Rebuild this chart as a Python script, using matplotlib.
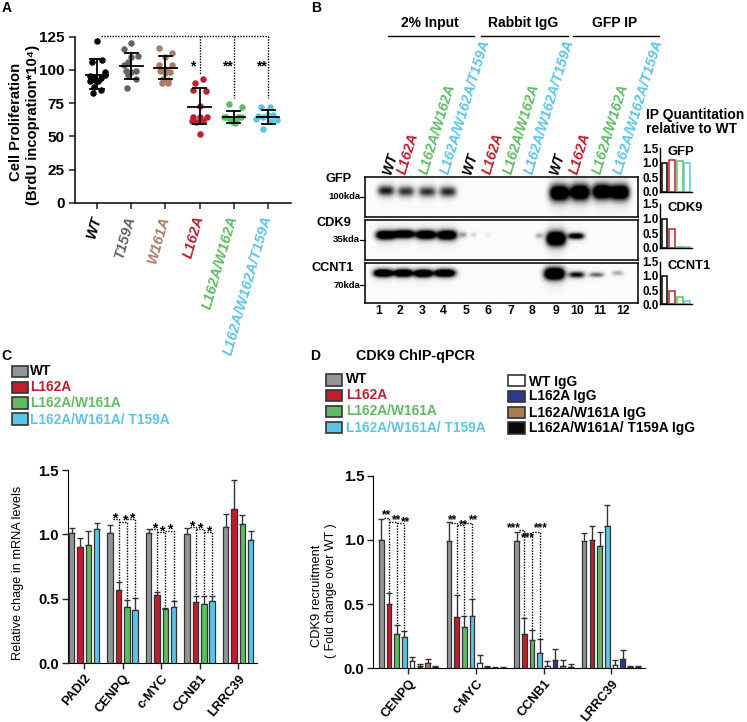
import numpy as np
import matplotlib
matplotlib.use("Agg")
import matplotlib.pyplot as plt
from matplotlib.patches import Rectangle

plt.rcParams['font.family'] = ['Liberation Sans', 'DejaVu Sans']
W, H = 747, 722
DARK = '#222222'
GRAY, RED, GREEN, BLUE = '#939598', '#BE1E2D', '#60BB63', '#5BC5E8'
SLATE, BROWN, NAVY = '#636466', '#A97C64', '#2B3990'
TAN, NEARBLACK = '#A97C50', '#0A0A0A'

# ---------- Panel A ----------
a_names = ['WT', 'T159A', 'W161A', 'L162A', 'L162A/W162A', 'L162A/W162A/T159A']
a_colors = ['black', SLATE, BROWN, RED, GREEN, BLUE]
a_wt = [121.7, 106, 107.5, 95.5, 98.7, 94, 92, 94, 92, 96, 92, 87, 85, 82.5]
a_wt_off = [0, -.16, .14, -.2, .24, -.08, .04, .12, -.03, .22, -.2, -.08, .12, -.12]
a_t = [120.5, 115.5, 110.5, 109.5, 104, 106, 99, 98.5, 99, 96, 93.5, 86.5]
a_t_off = [0, -.2, .2, -.02, -.2, -.1, -.15, 0, .15, -.1, .13, -.12]
a_w = [116.7, 112.5, 110, 103.7, 103.7, 101, 99, 97.5, 98.7, 93, 92.5, 90, 90.5]
a_w_off = [-.2, .2, 0, -.18, .2, 0, -.17, -.02, .13, -.07, .08, -.09, .08]
a_l = [90.4, 93, 85, 84.4, 73, 64.4, 64.4, 64.4, 61, 62, 62, 51.6]
a_l_off = [-.14, .11, -.2, .19, 0, -.2, 0, .21, -.1, .09, -.22, 0]
a_lw = [74.4, 72, 64.4, 63.5, 61, 64.4, 64.4, 60, 64.4, 62]
a_lw_off = [-.15, .24, -.22, -.12, -.03, .12, .22, .02, -.3, .06]
a_lwt = [72.4, 72.4, 65.4, 65, 66, 66, 62.4, 55.6, 63.5, 61.5]
a_lwt_off = [-.2, .07, -.29, -.15, 0, .15, .25, -.15, -.34, .1]
a_values = [a_wt, a_t, a_w, a_l, a_lw, a_lwt]
a_offsets = [a_wt_off, a_t_off, a_w_off, a_l_off, a_lw_off, a_lwt_off]
a_mean = [96.2, 103.2, 101.7, 72.4, 64.9, 64.9]
a_sd_hi = [108, 113, 110.5, 86.2, 69, 69.6]
a_sd_lo = [85.4, 93.4, 93.4, 59.1, 60.4, 59.6]
a_yticks = [0, 25, 50, 75, 100, 125]
a_sig_drop = [96, 79, 79]
a_sig_cat = [3, 4, 5]
a_sig_labels = ['*', '**', '**']

# ---------- Panel B ----------
b_lane_nums = ['1', '2', '3', '4', '5', '6', '7', '8', '9', '10', '11', '12']
b_lane_names = ['WT', 'L162A', 'L162A/W162A', 'L162A/W162A/T159A'] * 3
b_lane_colors = ['black', RED, GREEN, BLUE] * 3
b_groups = ['2% Input', 'Rabbit IgG', 'GFP IP']
# band: lane centre, depth, half width, half height, darkness (in zoomed blot units)
b_gfp = [(228, 41, 25, 15, .85), (288, 43, 25, 15, .75), (352, 44, 26, 15, .75), (414, 44, 25, 15, .8),
         (750, 48, 29, 23, 1.6), (812, 46, 29, 23, 1.6), (878, 44, 28, 22, 1.6), (932, 46, 28, 22, 1.6)]
b_cdk9 = [(227, 45, 29, 13, 1.6), (283, 42, 30, 12, 1.6), (348, 44, 30, 13, 1.6), (412, 45, 29, 14, 1.6),
          (460, 44, 11, 8, .35), (492, 44, 8, 6, .16), (535, 45, 10, 7, .05), (690, 47, 12, 8, .3),
          (740, 56, 28, 20, 1.9), (800, 48, 24, 9, 1.2)]
b_ccnt1 = [(220, 30, 29, 11, 1.7), (280, 30, 27, 11, 1.7), (340, 31, 28, 11, 1.7), (405, 30, 31, 11, 1.7),
           (735, 32, 30, 17, 1.9), (802, 35, 24, 9, .95), (862, 35, 22, 7, .55), (925, 30, 17, 7, .3)]
b_quant_titles = ['GFP', 'CDK9', 'CCNT1']
b_quant = [[1, 1.08, 1.07, 1.0], [1, .63, .015, .015], [1, .48, .24, .1]]
b_qticks = [0, .5, 1, 1.5]

# ---------- Panel C ----------
c_genes = ['PADI2', 'CENPQ', 'c-MYC', 'CCNB1', 'LRRC39']
c_names = ['WT', 'L162A', 'L162A/W161A', 'L162A/W161A/ T159A']
c_wt = [1.01, 1.01, 1.01, 1.00, 1.06]
c_l = [.90, .57, .53, .475, 1.20]
c_lw = [.92, .44, .42, .46, 1.08]
c_lwt = [1.04, .41, .44, .48, .96]
c_wt_e = [.04, .06, .03, .05, .10]
c_l_e = [.07, .06, .02, .045, .22]
c_lw_e = [.11, .05, .01, .06, .07]
c_lwt_e = [.05, .10, .04, .04, .07]
c_sig_tops = {1: [1.117, 1.10, 1.117], 2: [1.04, 1.02, 1.03], 3: [1.06, 1.04, 1.02]}
c_star_off = {1: [.5, 1.75, 2.55], 2: [.7, 1.6, 2.5], 3: [.55, 1.55, 2.6]}

# ---------- Panel D ----------
d_genes = ['CENPQ', 'c-MYC', 'CCNB1', 'LRRC39']
d_names = ['WT', 'L162A', 'L162A/W161A', 'L162A/W161A/ T159A']
d_igg_names = ['WT IgG', 'L162A IgG', 'L162A/W161A IgG', 'L162A/W161A/ T159A IgG']
d_cenpq = [1.0, .50, .27, .24, .055, .015, .04, .01]
d_cenpq_e = [.16, .09, .07, .05, .035, .015, .03, .005]
d_myc = [.99, .40, .32, .405, .04, .01, .005, .005]
d_myc_e = [.15, .17, .09, .135, .06, .005, .005, .005]
d_ccnb1 = [.99, .27, .22, .12, .02, .065, .02, .01]
d_ccnb1_e = [.07, .125, .075, .11, .04, .085, .045, .02]
d_lrrc = [.99, 1.0, .95, 1.11, .025, .075, .01, .01]
d_lrrc_e = [.06, .11, .11, .16, .04, .07, .005, .005]
d_sig_tops = {0: [1.17, 1.14, 1.13], 1: [1.13, 1.117, 1.135], 2: [1.08, 1.05, 1.06]}
d_star_off = {0: [.67, 1.95, 3.2], 1: [.45, 1.85, 3.2], 2: [-.3, 1.5, 3.2]}
d_star_y = {0: [1.21, 1.17, 1.155], 1: [1.165, 1.13, 1.165], 2: [1.11, 1.03, 1.11]}


def ax_px(l, t, r, b):
    a = fig.add_axes([l / W, 1 - b / H, (r - l) / W, (b - t) / H])
    a.patch.set_alpha(0)
    return a


def dotted(ax, xs, ys):
    ax.plot(xs, ys, color='black', lw=1, ls=(0, (1, 1)), clip_on=False, zorder=6)


fig = plt.figure(figsize=(W / 100, H / 100), dpi=100)
ov = fig.add_axes([0, 0, 1, 1], zorder=10)
ov.set_xlim(0, W); ov.set_ylim(H, 0); ov.axis('off'); ov.patch.set_alpha(0)


def T(x, y, s, size=10, color='black', weight='bold', ha='left', va='center', **kw):
    ov.text(x, y, s, fontsize=size, color=color, fontweight=weight, ha=ha, va=va, **kw)


for x, y, s in [(2, 8, 'A'), (311, 8, 'B'), (1, 356, 'C'), (310, 356, 'D')]:
    T(x, y, s, size=10)

# ---------- A ----------
axA = ax_px(75, 36.7, 291, 203)
for i, (vals, offs) in enumerate(zip(a_values, a_offsets)):
    axA.scatter(i + np.array(offs), vals, s=22, color=a_colors[i], clip_on=False, zorder=3, linewidths=0)
    axA.plot([i - .33, i + .33], [a_mean[i]] * 2, color='black', lw=1.3, zorder=4, clip_on=False)
    axA.plot([i, i], [a_sd_lo[i], a_sd_hi[i]], color='black', lw=1.3, zorder=4)
    for v in (a_sd_lo[i], a_sd_hi[i]):
        axA.plot([i - .19, i + .19], [v, v], color='black', lw=1.3, zorder=4)
axA.set_xlim(-.643, 5.67); axA.set_ylim(0, 125)
axA.set_yticks(a_yticks)
axA.set_yticklabels([str(v) for v in a_yticks], fontsize=11, fontweight='bold')
axA.set_xticks(range(6))
axA.set_xticklabels(a_names, rotation=74, ha='right', va='center', rotation_mode='anchor',
                    fontsize=10.5, fontstyle='italic', fontweight='bold')
for lab, c in zip(axA.get_xticklabels(), a_colors):
    lab.set_color(c)
axA.tick_params(axis='both', width=1.1, length=4.5, pad=3, color=DARK)
axA.tick_params(axis='x', pad=5)
for s in ('top', 'right'):
    axA.spines[s].set_visible(False)
for s in ('left', 'bottom'):
    axA.spines[s].set_linewidth(1.1)
dotted(axA, [.12, 5], [125.5, 125.5])
for c, d, s in zip(a_sig_cat, a_sig_drop, a_sig_labels):
    dotted(axA, [c, c], [125.5, d])
    axA.text(c - .2, 103, s, fontsize=10, ha='center', va='center', fontweight='bold')
T(16, 122, 'Cell Proliferation', size=10.7, rotation=90, ha='center')
T(33, 125, '(BrdU incopration*10⁴)', size=10.7, rotation=90, ha='center')

# ---------- B ----------
lbl_x = [228, 272, 340, 403, 468, 527, 590, 655, 730, 790, 858, 920]
lane_x = [205, 271, 335, 401, 468, 535, 603, 665, 738, 800, 868, 938]
for x, s, c in zip(lbl_x, b_lane_names, b_lane_colors):
    T(x / 3 + 311, 130 / 3 + 130, s, size=10.2, color=c, rotation=73, rotation_mode='anchor',
      fontstyle='italic', weight='bold')
for x, s in zip(lane_x, b_lane_nums):
    T(x / 3 + 310, 310.7, s, size=8.8, ha='center')
for x0, x1, s in zip([387.7, 481, 572.7], [474, 567.7, 659], b_groups):
    ov.plot([x0, x1], [36, 36], color='black', lw=1)
    T((x0 + x1) / 2 - 1, 22.7, s, size=10, ha='center')

yy, xx = np.mgrid[0:120:121j, 166:985:272j]
for bands, (top, bot), name, nx, ny, kda, ky in zip(
        [b_gfp, b_cdk9, b_ccnt1], [(177, 217), (220, 260), (263, 303)],
        ['GFP', 'CDK9', 'CCNT1'], [325, 316.7, 311], [179, 223, 268],
        ['100kda', '35kda', '70kda'], [196.7, 240, 285]):
    img = np.full(xx.shape, .015)
    for cx, cy, hw, hh, d in bands:
        prof_x = np.exp(-np.abs((xx - cx) / hw) ** 3.2)
        prof_y = np.exp(-((yy - cy) / hh) ** 2)
        smear = .07 * np.exp(-((yy - cy) / (hh * 2.3)) ** 2)
        img += d * prof_x * (prof_y + smear)
    ab = ax_px(365.3, top, 638.3, bot)
    ab.imshow(1 - np.clip(img, 0, 1), cmap='gray', vmin=0, vmax=1, aspect='auto',
              interpolation='bilinear', extent=(166, 985, 120, 0))
    ab.set_xticks([]); ab.set_yticks([])
    for s in ab.spines.values():
        s.set_linewidth(1.2)
        s.set_color('#111111')
    T(nx, ny, name, size=9.2, weight='bold')
    T(360, ky, kda, size=6.8, ha='right')
    ov.plot([360, 365], [ky, ky], color='black', lw=.9)

T(646, 115, 'IP Quantitation', size=10)
T(646, 129, 'relative to WT', size=10)
bar_edges = ['black', RED, GREEN, BLUE]
for vals, title, (top, bot) in zip(b_quant, b_quant_titles, [(148.3, 191.7), (204, 247.7), (261.7, 304.3)]):
    q = ax_px(660, top, 691.5, bot)
    q.bar(range(4), vals, width=.75, facecolor='white', edgecolor=bar_edges, linewidth=1.1, clip_on=False)
    q.set_xlim(-.6, 3.55); q.set_ylim(0, 1.5)
    q.set_xticks([]); q.set_yticks(b_qticks)
    q.set_yticklabels(['0.0', '0.5', '1.0', '1.5'], fontsize=8.4, fontweight='bold')
    q.tick_params(axis='y', length=0, pad=1)
    for s in ('top', 'right'):
        q.spines[s].set_visible(False)
    for s in ('left', 'bottom'):
        q.spines[s].set_linewidth(1)
    T(667, top + 4, title, size=9.4, weight='bold')

# ---------- C ----------
c_colors = [GRAY, RED, GREEN, BLUE]
for ys, s, c, ty in zip([(365.7, 377.3), (381.7, 393.3), (397.3, 409), (413.3, 425)], c_names,
                        ['black', RED, GREEN, BLUE], [371, 387, 402.7, 419.7]):
    ov.add_patch(Rectangle((11.7, ys[0]), 16.6, ys[1] - ys[0], facecolor=c_colors[c_names.index(s)],
                           edgecolor='#333333', lw=1.2))
    T(30, ty, s, size=9.9, color=c)

axC = ax_px(67.7, 470, 256.7, 663.3)
c_step = 4.62
for j, (vals, errs) in enumerate(zip([c_wt, c_l, c_lw, c_lwt], [c_wt_e, c_l_e, c_lw_e, c_lwt_e])):
    xs = np.arange(5) * c_step + j
    axC.bar(xs, vals, width=.65, color=c_colors[j], edgecolor='#333333', linewidth=.9, zorder=3)
    axC.errorbar(xs, vals, yerr=[np.zeros(5), errs], fmt='none', ecolor='#333333', elinewidth=1,
                 capsize=2.2, capthick=1, zorder=2)
c_all = [c_wt, c_l, c_lw, c_lwt]
c_all_e = [c_wt_e, c_l_e, c_lw_e, c_lwt_e]
for g, tops in c_sig_tops.items():
    x0 = g * c_step
    for k, top in enumerate(tops):
        drop = c_all[k + 1][g] + c_all_e[k + 1][g]
        dotted(axC, [x0 + k + (.3 if k == 0 else 0), x0 + k + 1, x0 + k + 1], [top, top, drop])
        axC.text(x0 + c_star_off[g][k], top + .005, '*', fontsize=10, ha='center', va='center', fontweight='bold')
axC.set_xlim(-.48, 22.2); axC.set_ylim(0, 1.5)
axC.set_yticks([0, .5, 1, 1.5])
axC.set_yticklabels(['0.0', '0.5', '1.0', '1.5'], fontsize=10.7, fontweight='bold')
axC.set_xticks(np.arange(5) * c_step + 1.5)
axC.set_xticklabels(c_genes, rotation=50, ha='right', va='top', rotation_mode='anchor', fontsize=9.3, fontweight='bold')
axC.tick_params(width=1, length=4.5, pad=2, color=DARK)
for s in ('top', 'right'):
    axC.spines[s].set_visible(False)
T(18.3, 573, 'Relative chage in mRNA levels', size=9.2, weight='normal', rotation=90, ha='center')

# ---------- D ----------
d_colors = [GRAY, RED, GREEN, BLUE, 'white', NAVY, TAN, NEARBLACK]
T(356, 356, 'CDK9 ChIP-qPCR', size=10.3)
for i, (s, c, ty, yt) in enumerate(zip(d_names, ['black', RED, GREEN, BLUE], [379.3, 395, 411, 428.3],
                                       [374.3, 390, 405.7, 421.7])):
    ov.add_patch(Rectangle((325.7, yt), 16, 11.4, facecolor=d_colors[i], edgecolor='#333333', lw=1.2))
    T(345.7, ty, s, size=9.9, color=c)
for i, (s, ty, yt) in enumerate(zip(d_igg_names, [381.7, 396, 413.3, 428.3], [375, 391, 406.7, 422.3])):
    ov.add_patch(Rectangle((508.3, yt), 16.7, 11.3, facecolor=d_colors[4 + i], edgecolor='#333333', lw=1.2))
    T(528.7, ty, s, size=9.9)

axD = ax_px(373.3, 475.7, 645, 668.3)
d_step = 8.77
d_all = [d_cenpq, d_myc, d_ccnb1, d_lrrc]
d_all_e = [d_cenpq_e, d_myc_e, d_ccnb1_e, d_lrrc_e]
for g, (vals, errs) in enumerate(zip(d_all, d_all_e)):
    xs = g * d_step + np.arange(8)
    axD.bar(xs, vals, width=.6, color=d_colors, edgecolor='#333333', linewidth=.9, zorder=3)
    axD.errorbar(xs, vals, yerr=[np.zeros(8), errs], fmt='none', ecolor='#333333', elinewidth=1,
                 capsize=2, capthick=1, zorder=2)
for g, tops in d_sig_tops.items():
    x0 = g * d_step
    for k, top in enumerate(tops):
        drop = d_all[g][k + 1] + d_all_e[g][k + 1]
        dotted(axD, [x0 + k + (.3 if k == 0 else 0), x0 + k + 1, x0 + k + 1], [top, top, drop])
        s = '***' if g == 2 else '**'
        axD.text(x0 + d_star_off[g][k], d_star_y[g][k] - .015, s, fontsize=8.5, ha='center', va='center', fontweight='bold')
axD.set_xlim(-1.04, 34.2); axD.set_ylim(0, 1.5)
axD.set_yticks([0, .5, 1, 1.5])
axD.set_yticklabels(['0.0', '0.5', '1.0', '1.5'], fontsize=10.7, fontweight='bold')
axD.set_xticks(np.arange(4) * d_step + 3.5)
axD.set_xticklabels(d_genes, rotation=50, ha='right', va='top', rotation_mode='anchor', fontsize=9.3, fontweight='bold')
axD.tick_params(width=1, length=4.5, pad=2, color=DARK)
for s in ('top', 'right'):
    axD.spines[s].set_visible(False)
T(317, 596, 'CDK9 recruitment', size=9.3, weight='normal', rotation=90, ha='center')
T(331, 591, '( Fold change over WT )', size=9, weight='normal', rotation=90, ha='center')

fig.savefig('out.png', dpi=100)
